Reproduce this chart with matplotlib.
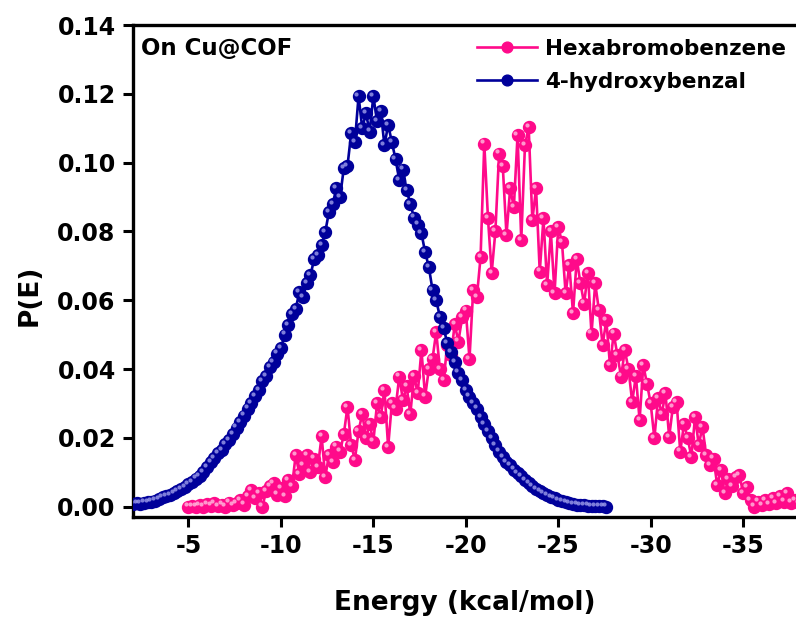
import numpy as np
import matplotlib
matplotlib.use("Agg")
import matplotlib.pyplot as plt
import matplotlib.transforms as mtransforms

# ---------------- data ----------------
series_names = ["Hexabromobenzene", "4-hydroxybenzal"]

# Hexabromobenzene: bins start at -5.0 kcal/mol, step -0.2
hexa_start, hexa_step = -5.0, -0.2
hexa_p = [
    0.0000, 0.0002, 0.0000, 0.0005, 0.0000, 0.0008, 0.0003, 0.0010, 0.0002, 0.0006,
    0.0000, 0.0012, 0.0004, 0.0010, 0.0020, 0.0006, 0.0030, 0.0048, 0.0025, 0.0040,
    0.0000, 0.0045, 0.0060, 0.0068, 0.0035, 0.0055, 0.0030, 0.0078, 0.0060, 0.0150,
    0.0095, 0.0120, 0.0150, 0.0100, 0.0140, 0.0115, 0.0205, 0.0087, 0.0150, 0.0130,
    0.0175, 0.0160, 0.0210, 0.0290, 0.0180, 0.0136, 0.0220, 0.0270, 0.0200, 0.0240,
    0.0189, 0.0300, 0.0260, 0.0339, 0.0174, 0.0300, 0.0285, 0.0378, 0.0310, 0.0350,
    0.0270, 0.0380, 0.0330, 0.0455, 0.0320, 0.0400, 0.0430, 0.0508, 0.0400, 0.0368,
    0.0470, 0.0440, 0.0530, 0.0480, 0.0550, 0.0570, 0.0430, 0.0630, 0.0610, 0.0726,
    0.1055, 0.0838, 0.0680, 0.0800, 0.1026, 0.0990, 0.0790, 0.0925, 0.0871, 0.1080,
    0.0775, 0.1050, 0.1104, 0.0833, 0.0925, 0.0683, 0.0838, 0.0644, 0.0800, 0.0620,
    0.0813, 0.0770, 0.0620, 0.0702, 0.0562, 0.0720, 0.0650, 0.0590, 0.0680, 0.0503,
    0.0649, 0.0571, 0.0470, 0.0542, 0.0411, 0.0503, 0.0440, 0.0378, 0.0455, 0.0400,
    0.0305, 0.0380, 0.0252, 0.0411, 0.0358, 0.0300, 0.0199, 0.0315, 0.0270, 0.0330,
    0.0203, 0.0290, 0.0305, 0.0160, 0.0240, 0.0200, 0.0145, 0.0261, 0.0180, 0.0232,
    0.0150, 0.0120, 0.0140, 0.0063, 0.0107, 0.0039, 0.0080, 0.0060, 0.0085, 0.0092,
    0.0040, 0.0058, 0.0020, 0.0000, 0.0015, 0.0005, 0.0019, 0.0008, 0.0025, 0.0010,
    0.0030, 0.0015, 0.0039, 0.0012, 0.0020, 0.0010,
]

# 4-hydroxybenzal: bins start at -2.0 kcal/mol, step -0.2
hydroxy_start, hydroxy_step = -2.0, -0.2
hydroxy_p = [
    0.0008, 0.0010, 0.0009, 0.0012, 0.0013, 0.0015, 0.0018, 0.0022, 0.0027, 0.0030,
    0.0034, 0.0040, 0.0045, 0.0052, 0.0058, 0.0066, 0.0072, 0.0082, 0.0090, 0.0100,
    0.0115, 0.0130, 0.0142, 0.0155, 0.0165, 0.0182, 0.0194, 0.0212, 0.0230, 0.0245,
    0.0265, 0.0285, 0.0300, 0.0322, 0.0338, 0.0365, 0.0380, 0.0405, 0.0420, 0.0445,
    0.0460, 0.0500, 0.0528, 0.0560, 0.0575, 0.0624, 0.0610, 0.0650, 0.0673, 0.0720,
    0.0731, 0.0760, 0.0799, 0.0857, 0.0880, 0.0925, 0.0900, 0.0983, 0.0990, 0.1085,
    0.1060, 0.1193, 0.1100, 0.1143, 0.1090, 0.1193, 0.1120, 0.1150, 0.1050, 0.1110,
    0.1060, 0.1010, 0.0950, 0.0980, 0.0920, 0.0880, 0.0840, 0.0820, 0.0795, 0.0740,
    0.0697, 0.0630, 0.0600, 0.0552, 0.0520, 0.0475, 0.0450, 0.0420, 0.0390, 0.0368,
    0.0340, 0.0320, 0.0300, 0.0285, 0.0260, 0.0240, 0.0220, 0.0200, 0.0180, 0.0160,
    0.0145, 0.0130, 0.0120, 0.0108, 0.0097, 0.0088, 0.0078, 0.0068, 0.0060, 0.0052,
    0.0046, 0.0040, 0.0034, 0.0029, 0.0024, 0.0020, 0.0016, 0.0013, 0.0010, 0.0008,
    0.0006, 0.0005, 0.0004, 0.0003, 0.0002, 0.0002, 0.0001, 0.0001, 0.0000,
]

x_ticks = [-5, -10, -15, -20, -25, -30, -35]
x_tick_labels = ["-5", "-10", "-15", "-20", "-25", "-30", "-35"]
y_ticks = [0.00, 0.02, 0.04, 0.06, 0.08, 0.10, 0.12, 0.14]
y_tick_labels = ["0.00", "0.02", "0.04", "0.06", "0.08", "0.10", "0.12", "0.14"]

hexa_e = np.round(hexa_start + hexa_step * np.arange(len(hexa_p)), 2)
hydroxy_e = np.round(hydroxy_start + hydroxy_step * np.arange(len(hydroxy_p)), 2)

# ---------------- style ----------------
PINK = "#FF0A8A"
BLUE = "#00009A"
plt.rcParams["font.family"] = ["DejaVu Sans"]
plt.rcParams["font.weight"] = "bold"

W, H = 796, 617
fig = plt.figure(figsize=(W / 100, H / 100), dpi=100)
ax = fig.add_axes([133 / W, (H - 516.7) / H, (W - 133) / W, (516.7 - 25) / H])


def draw(e, p, color, hl, label):
    ax.plot(e, p, "-", color=color, lw=1.9, marker="o", ms=8.6,
            mec=color, mfc=color, label=label, zorder=3)
    off = mtransforms.offset_copy(ax.transData, fig=fig, x=-1.5, y=1.6, units="points")
    ax.plot(e, p, "o", ms=3.0, mfc=hl, mec="none", alpha=0.75,
            transform=off, zorder=3)


draw(hexa_e, hexa_p, PINK, "#FFC8E4", series_names[0])
draw(hydroxy_e, hydroxy_p, BLUE, "#A8A8F0", series_names[1])

ax.set_xlim(-2.0, -37.86)
ax.set_ylim(-0.0029, 0.14)
ax.set_xticks(x_ticks)
ax.set_xticklabels(x_tick_labels)
ax.set_yticks(y_ticks)
ax.set_yticklabels(y_tick_labels)
ax.tick_params(axis="both", direction="out", length=7.5, width=2.2,
               labelsize=17, pad=5)
for s in ["left", "bottom", "top"]:
    ax.spines[s].set_linewidth(2.4)
ax.spines["right"].set_visible(False)
for t in ax.get_xticklabels() + ax.get_yticklabels():
    t.set_fontweight("bold")

fig.text(465 / W, 1 - 590 / H, "Energy (kcal/mol)", ha="center", va="top",
         fontsize=19, fontweight="bold")
fig.text(30 / W, 1 - 295 / H, "P(E)", ha="center", va="center", rotation=90,
         fontsize=19, fontweight="bold")
fig.text(141 / W, 1 - 55 / H, "On Cu@COF", ha="left", va="baseline",
         fontsize=16.5, fontweight="bold")

leg = ax.legend(loc="upper left", bbox_to_anchor=(466 / W, 1 - 28 / H),
                bbox_transform=fig.transFigure, frameon=False, borderpad=0,
                handlelength=2.8, handletextpad=0.35, labelspacing=0.6,
                prop={"size": 15.5, "weight": "bold"}, numpoints=1,
                markerscale=0.9)

fig.savefig("out.png", dpi=100)
